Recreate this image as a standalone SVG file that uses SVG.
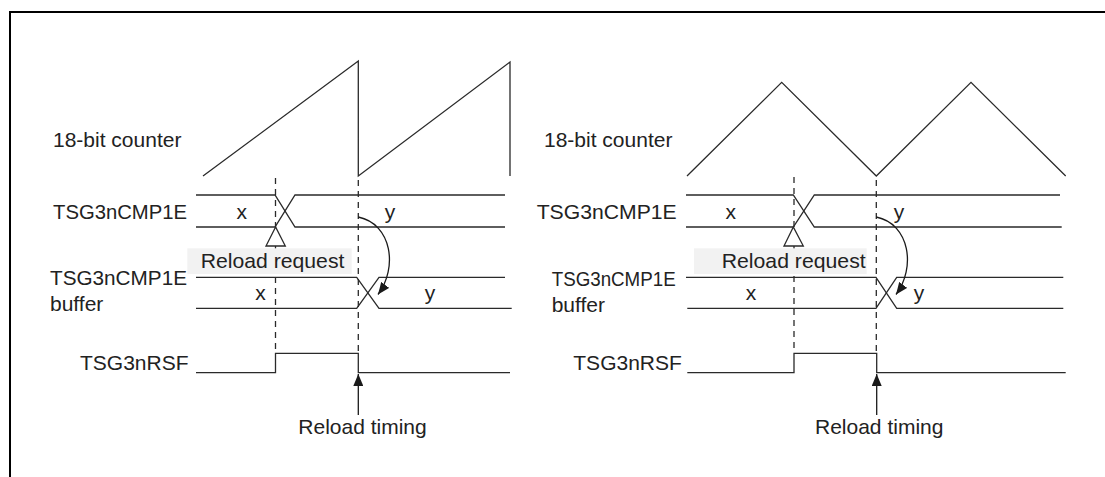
<svg xmlns="http://www.w3.org/2000/svg" width="1105" height="477" viewBox="0 0 1105 477">
  <style>
    .frame { fill: none; stroke: #000; stroke-width: 2; }
    .wave { fill: none; stroke: #2a2a2a; stroke-width: 1.3; stroke-linejoin: miter; }
    .dash { fill: none; stroke: #2a2a2a; stroke-width: 1.3; stroke-dasharray: 6 5; }
    .arrow { fill: none; stroke: #1a1a1a; stroke-width: 1.3; marker-end: url(#head); }
    .req { fill: #fff; stroke: #2a2a2a; stroke-width: 1.3; }
    .lblbg { fill: #f2f2f2; }
    text { font-family: "Liberation Sans", Arial, sans-serif; font-size: 21px; fill: #222; }
    .mid { text-anchor: middle; }
  </style>
  <defs>
    <marker id="head" viewBox="0 0 12 10" refX="12" refY="5" markerWidth="12" markerHeight="10" markerUnits="userSpaceOnUse" orient="auto">
      <path d="M0,0 L12,5 L0,10 z" fill="#1a1a1a"/>
    </marker>
  </defs>

  <path id="frame" class="frame" d="M10,477 L10,12 L1105,12"/>

  <!-- Left panel: sawtooth counter -->
  <g id="left-panel">
    <g id="left-labels">
      <text x="53" y="147">18-bit counter</text>
      <text x="53" y="219" textLength="134" lengthAdjust="spacingAndGlyphs">TSG3nCMP1E</text>
      <text x="50" y="285" textLength="137" lengthAdjust="spacingAndGlyphs">TSG3nCMP1E</text>
      <text x="50" y="311">buffer</text>
      <text x="80" y="370">TSG3nRSF</text>
    </g>
    <g id="left-dashes">
      <line class="dash" x1="275.5" y1="178" x2="275.5" y2="353"/>
      <line class="dash" x1="358.3" y1="180" x2="358.3" y2="353"/>
    </g>
    <g id="left-counter">
      <path class="wave" d="M203,176 L358.3,61 L358.3,176 L510,62 L510,176"/>
    </g>
    <g id="left-cmp1e">
      <path class="wave" d="M196,195 L275,195 L295,227 L505,227"/>
      <path class="wave" d="M196,227 L275,227 L295,195 L505,195"/>
      <text class="mid" x="241.7" y="219">x</text>
      <text class="mid" x="390" y="219">y</text>
    </g>
    <g id="left-request">
      <polygon class="req" points="275.6,227 266,246 285.3,246"/>
      <rect class="lblbg" x="187.3" y="248.3" width="164.4" height="25.7"/>
      <text x="200.7" y="268" textLength="143.7" lengthAdjust="spacingAndGlyphs">Reload request</text>
    </g>
    <g id="left-buffer">
      <path class="wave" d="M196,277.3 L356.7,277.3 L379,308.3 L511.7,308.3"/>
      <path class="wave" d="M196,308.3 L356.7,308.3 L379,277.3 L505,277.3"/>
      <text class="mid" x="260.5" y="300">x</text>
      <text class="mid" x="430" y="300">y</text>
    </g>
    <g id="left-rsf">
      <path class="wave" d="M196,372.7 L275.5,372.7 L275.5,353.3 L358.3,353.3 L358.3,372.7 L510,372.7"/>
    </g>
    <g id="left-connectors">
      <path class="arrow" d="M358.3,217 C392,224 398,268 378,294.5"/>
      <line class="arrow" x1="358.3" y1="415" x2="358.3" y2="374"/>
    </g>
    <text x="298.3" y="434.3">Reload timing</text>
  </g>

  <!-- Right panel: triangle counter -->
  <g id="right-panel">
    <g id="right-labels">
      <text x="544" y="147">18-bit counter</text>
      <text x="536.7" y="219" textLength="140" lengthAdjust="spacingAndGlyphs">TSG3nCMP1E</text>
      <text x="551.7" y="286" textLength="124" lengthAdjust="spacingAndGlyphs">TSG3nCMP1E</text>
      <text x="551.7" y="311.7">buffer</text>
      <text x="573.3" y="369.5">TSG3nRSF</text>
    </g>
    <g id="right-dashes">
      <line class="dash" x1="794" y1="177" x2="794" y2="353"/>
      <line class="dash" x1="876.3" y1="180" x2="876.3" y2="353"/>
    </g>
    <g id="right-counter">
      <path class="wave" d="M687,176 L781.7,82.3 L876.3,176 L971,82.3 L1065.7,176"/>
    </g>
    <g id="right-cmp1e">
      <path class="wave" d="M686,195 L793.3,195 L814.3,227 L1061.7,227"/>
      <path class="wave" d="M686,227 L793.3,227 L814.3,195 L1060,195"/>
      <text class="mid" x="730.7" y="219">x</text>
      <text class="mid" x="899" y="219">y</text>
    </g>
    <g id="right-request">
      <polygon class="req" points="793.3,227 784,246 803.3,246"/>
      <rect class="lblbg" x="694" y="248.3" width="172.7" height="25.7"/>
      <text x="721.7" y="268" textLength="144" lengthAdjust="spacingAndGlyphs">Reload request</text>
    </g>
    <g id="right-buffer">
      <path class="wave" d="M686,277.3 L876,277.3 L896.7,308.3 L1063.3,308.3"/>
      <path class="wave" d="M687.3,308.3 L876,308.3 L896.7,277.3 L1063.3,277.3"/>
      <text class="mid" x="751" y="300">x</text>
      <text class="mid" x="919" y="300">y</text>
    </g>
    <g id="right-rsf">
      <path class="wave" d="M687.3,372.7 L794,372.7 L794,353.3 L876.7,353.3 L876.7,372.7 L1065.7,372.7"/>
    </g>
    <g id="right-connectors">
      <path class="arrow" d="M876.3,217 C910,224 916,268 896,294.5"/>
      <line class="arrow" x1="876.7" y1="415" x2="876.7" y2="374"/>
    </g>
    <text x="815" y="434.3">Reload timing</text>
  </g>
</svg>
